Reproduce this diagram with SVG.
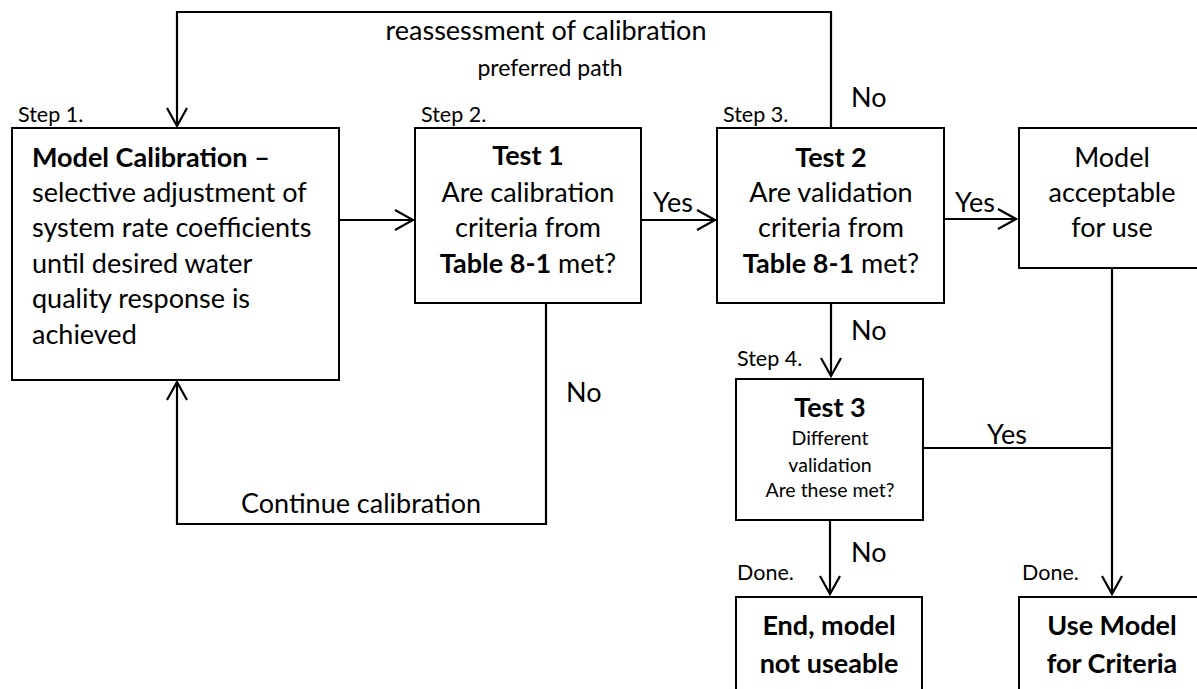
<svg xmlns="http://www.w3.org/2000/svg" width="1197" height="689" viewBox="0 0 1197 689">
<style>
  .box { fill: #fff; stroke: #000; stroke-width: 2; }
  .ln { fill: none; stroke: #000; stroke-width: 2.2; }
  text { font-family: Lato, "Open Sans", "Liberation Sans", sans-serif; fill: #000; }
  .t { font-size: 27px; }
  .b { font-weight: bold; }
  .s { font-size: 21.5px; }
  .p { font-size: 23px; }
  .sm { font-size: 19.5px; }
  .mid { text-anchor: middle; }
</style>
<defs>
  <marker id="arr" markerUnits="userSpaceOnUse" markerWidth="22" markerHeight="24" refX="19" refY="11" orient="auto" viewBox="0 0 22 24">
    <path d="M1,1 L19,11 L1,21" fill="none" stroke="#000" stroke-width="2.2"/>
  </marker>
</defs>
<rect width="1197" height="689" fill="#fff"/>

<g id="connectors">
  <path class="ln" d="M831,128 V12 H177 V126" marker-end="url(#arr)"/>
  <path class="ln" d="M339,220 H413" marker-end="url(#arr)"/>
  <path class="ln" d="M641,220 H715" marker-end="url(#arr)"/>
  <path class="ln" d="M944,219 H1016" marker-end="url(#arr)"/>
  <path class="ln" d="M546,303 V524 H177 V382" marker-end="url(#arr)"/>
  <path class="ln" d="M831,303 V376" marker-end="url(#arr)"/>
  <path class="ln" d="M830,520 V594" marker-end="url(#arr)"/>
  <path class="ln" d="M1112,268 V594" marker-end="url(#arr)"/>
  <path class="ln" d="M923,448 H1112"/>
  <text class="t mid" x="546" y="40">reassessment of calibration</text>
  <text class="p mid" x="550" y="76">preferred path</text>
  <text class="t" x="851" y="107">No</text>
  <text class="t" x="653" y="212">Yes</text>
  <text class="t" x="955" y="212">Yes</text>
  <text class="t" x="566" y="402">No</text>
  <text class="t mid" x="361" y="513">Continue calibration</text>
  <text class="t" x="851" y="340">No</text>
  <text class="t" x="987" y="444">Yes</text>
  <text class="t" x="851" y="562">No</text>
</g>

<g id="step1">
  <text class="s" x="18" y="122">Step 1.</text>
  <rect class="box" x="12" y="128" width="327" height="252"/>
  <text class="t b" x="32" y="167">Model Calibration –</text>
  <text class="t" x="32" y="202">selective adjustment of</text>
  <text class="t" x="32" y="237">system rate coefficients</text>
  <text class="t" x="32" y="273">until desired water</text>
  <text class="t" x="32" y="308">quality response is</text>
  <text class="t" x="32" y="344">achieved</text>
</g>

<g id="step2">
  <text class="s" x="421" y="122">Step 2.</text>
  <rect class="box" x="415" y="128" width="226" height="175"/>
  <text class="t b mid" x="528" y="165">Test 1</text>
  <text class="t mid" x="528" y="202">Are calibration</text>
  <text class="t mid" x="528" y="237">criteria from</text>
  <text class="t mid" x="528" y="273"><tspan class="b">Table 8-1</tspan> met?</text>
</g>

<g id="step3">
  <text class="s" x="723" y="122">Step 3.</text>
  <rect class="box" x="717" y="128" width="227" height="175"/>
  <text class="t b mid" x="831" y="167">Test 2</text>
  <text class="t mid" x="831" y="202">Are validation</text>
  <text class="t mid" x="831" y="237">criteria from</text>
  <text class="t mid" x="831" y="273"><tspan class="b">Table 8-1</tspan> met?</text>
</g>

<g id="acceptable">
  <rect class="box" x="1019" y="128" width="190" height="140"/>
  <text class="t mid" x="1112" y="167">Model</text>
  <text class="t mid" x="1112" y="202">acceptable</text>
  <text class="t mid" x="1112" y="237">for use</text>
</g>

<g id="step4">
  <text class="s" x="737" y="366">Step 4.</text>
  <rect class="box" x="736" y="379" width="187" height="141"/>
  <text class="t b mid" x="830" y="417">Test 3</text>
  <text class="sm mid" x="830" y="445">Different</text>
  <text class="sm mid" x="830" y="472">validation</text>
  <text class="sm mid" x="830" y="497">Are these met?</text>
</g>

<g id="end">
  <text class="s" x="737" y="580">Done.</text>
  <rect class="box" x="736" y="597" width="186" height="110"/>
  <text class="t b mid" x="829" y="635">End, model</text>
  <text class="t b mid" x="829" y="673">not useable</text>
</g>

<g id="use">
  <text class="s" x="1022" y="580">Done.</text>
  <rect class="box" x="1019" y="597" width="190" height="110"/>
  <text class="t b mid" x="1112" y="635">Use Model</text>
  <text class="t b mid" x="1112" y="673">for Criteria</text>
</g>
</svg>
